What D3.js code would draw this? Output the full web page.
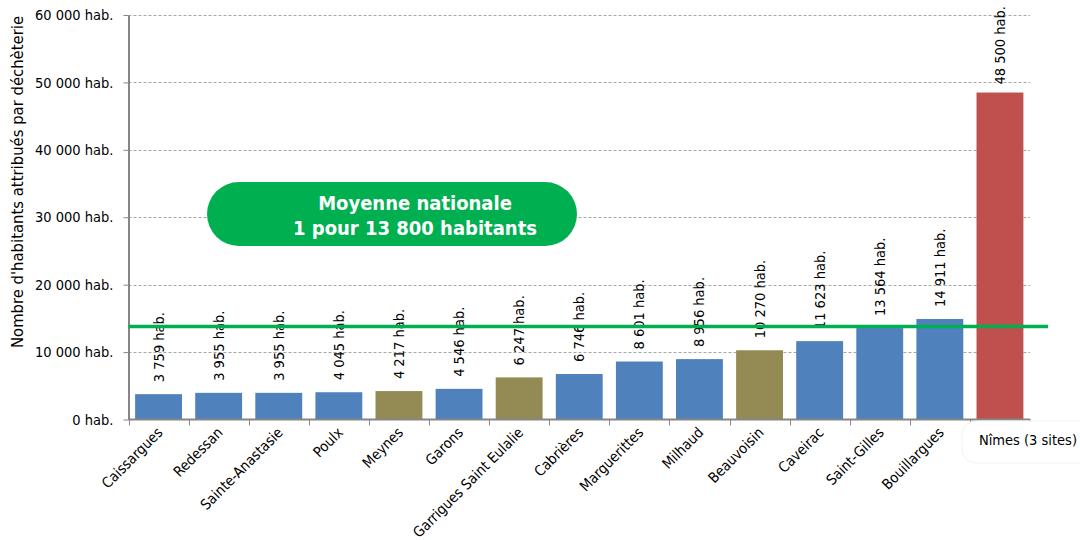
<!DOCTYPE html>
<html><head><meta charset="utf-8">
<script src="https://cdn.jsdelivr.net/npm/d3@7"></script>
<style>body{margin:0;background:#fff}svg{display:block}</style>
</head><body>
<svg id="c" width="1080" height="540"></svg>
<script>
const categories = ["Caissargues","Redessan","Sainte-Anastasie","Poulx","Meynes","Garons","Garrigues Saint Eulalie","Cabrières","Marguerittes","Milhaud","Beauvoisin","Caveirac","Saint-Gilles","Bouillargues","Nîmes (3 sites)"];
const values = [3759,3955,3955,4045,4217,4546,6247,6746,8601,8956,10270,11623,13564,14911,48500];
const groups = ["a","a","a","a","b","a","b","a","a","a","b","a","a","a","c"];
const yTicks = [0,10000,20000,30000,40000,50000,60000];
const nationalAverage = 13800;
const boxLines = ["Moyenne nationale","1 pour 13 800 habitants"];
const yTitle = "Nombre d'habitants attribués par déchèterie";

const colors = {a:"#4f81bd", b:"#948a54", c:"#c0504d"};
const fmt = v => d3.format(",")(v).replace(/,/g," ") + " hab.";
const font = "'DejaVu Sans Condensed', 'DejaVu Sans', sans-serif";

const svg = d3.select("#c");
const L = 128.5, R = 1030, T = 15, B = 419.5;
const x = d3.scaleBand().domain(categories).range([L, R]).paddingInner(0.22).paddingOuter(0.11);
const y = d3.scaleLinear().domain([0, 60000]).range([B, T]);

// gridlines
svg.append("g").selectAll("line").data(yTicks.filter(d=>d>0)).join("line")
  .attr("x1", L).attr("x2", R).attr("y1", d=>Math.round(y(d))+0.5).attr("y2", d=>Math.round(y(d))+0.5)
  .attr("stroke", "#a6a6a6").attr("stroke-dasharray", "3,2").attr("stroke-width", 1);

// bars
svg.append("g").selectAll("rect").data(categories).join("rect")
  .attr("x", d=>x(d)).attr("width", x.bandwidth())
  .attr("y", (d,i)=>y(values[i])).attr("height", (d,i)=>B - y(values[i]))
  .attr("fill", (d,i)=>colors[groups[i]]);

// y axis
const yAxis = svg.append("g").attr("transform", `translate(${L},0)`)
  .call(d3.axisLeft(y).tickValues(yTicks).tickFormat(fmt).tickSize(5).tickSizeOuter(0));
yAxis.select(".domain").attr("stroke", "#868686").attr("stroke-width", 2);
yAxis.selectAll(".tick line").attr("stroke", "#868686");
yAxis.selectAll(".tick text").attr("font-family", font).attr("font-size", 14.5).attr("fill", "#000").attr("x", -15);

// x axis
const xAxisG = svg.append("g").attr("transform", `translate(0,${B})`);
xAxisG.append("line").attr("x1", L).attr("x2", R).attr("stroke", "#868686").attr("stroke-width", 2);
const bounds = d3.range(categories.length + 1).map(i => L + i * x.step());
xAxisG.selectAll(".tk").data(bounds).join("line").attr("class","tk")
  .attr("x1", d=>Math.round(d)+0.5).attr("x2", d=>Math.round(d)+0.5).attr("y1", 0).attr("y2", 6)
  .attr("stroke", "#868686");

// x labels
svg.append("g").selectAll("text").data(categories.slice(0, -1)).join("text")
  .attr("transform", d => `translate(${x(d) + x.bandwidth()/2 + 5},${B + 14}) rotate(-45)`)
  .attr("text-anchor", "end").attr("font-family", font).attr("font-size", 14.5).attr("fill", "#000")
  .text(d=>d);
const last = categories[categories.length - 1];
svg.append("rect").attr("x", 962).attr("y", 421).attr("width", 130).attr("height", 42).attr("rx", 14)
  .attr("fill", "#fff").attr("stroke", "#f3f3f3");
svg.append("text").attr("x", 1028).attr("y", 445).attr("text-anchor", "middle")
  .attr("font-family", font).attr("font-size", 14.5).attr("fill", "#000").text(last);

// value labels
svg.append("g").selectAll("text").data(categories).join("text")
  .attr("transform", (d,i) => `translate(${x(d) + x.bandwidth()/2 + 5},${y(values[i]) - (i === categories.length-1 ? 8 : 12)}) rotate(-90)`)
  .attr("text-anchor", "start").attr("font-family", font).attr("font-size", 14.5).attr("fill", "#000")
  .text((d,i)=>fmt(values[i]));

// national average line
svg.append("line").attr("x1", L).attr("x2", 1048).attr("y1", y(nationalAverage)).attr("y2", y(nationalAverage))
  .attr("stroke", "#00b050").attr("stroke-width", 3.5);

// y title
svg.append("text").attr("transform", `translate(23,182) rotate(-90)`).attr("text-anchor", "middle")
  .attr("font-family", font).attr("font-size", 16.5).attr("fill", "#000").text(yTitle);

// green box
svg.append("rect").attr("x", 207).attr("y", 182).attr("width", 370).attr("height", 64).attr("rx", 32)
  .attr("fill", "#00b050");
svg.append("g").selectAll("text").data(boxLines).join("text")
  .attr("x", 415).attr("y", (d,i)=>210 + i*25).attr("text-anchor", "middle")
  .attr("font-family", font).attr("font-weight", "bold").attr("font-size", 20).attr("fill", "#fff")
  .text(d=>d);
</script>
</body></html>
